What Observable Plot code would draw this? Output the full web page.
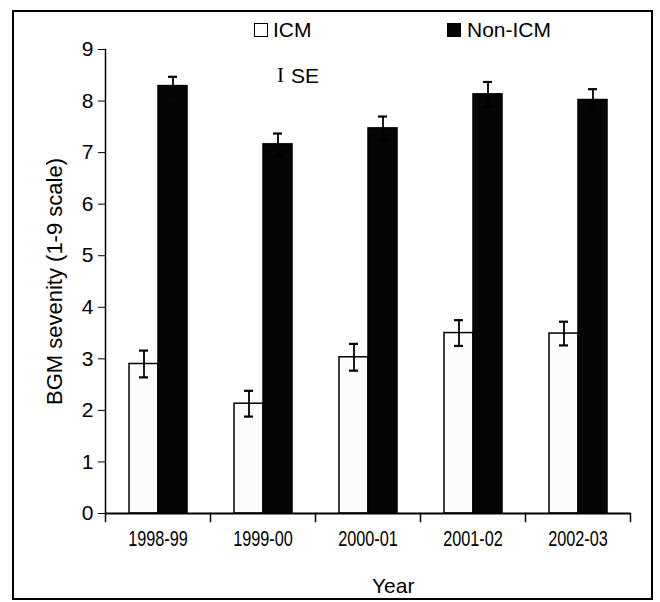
<!DOCTYPE html>
<html>
<head>
<meta charset="utf-8">
<script src="https://cdn.jsdelivr.net/npm/d3@7"></script>
<script src="https://cdn.jsdelivr.net/npm/@observablehq/plot@0.6"></script>
<style>
  body { margin: 0; background: #fff; }
  #wrap { position: relative; width: 660px; height: 602px; font-family: "Liberation Sans", Arial, sans-serif; color: #000; }
  #wrap svg { position: absolute; left: 0; top: 0; }
  #border { position: absolute; left: 12px; top: 10px; width: 637px; height: 586px; border: 2px solid #000; }
  .txt { position: absolute; font-size: 21px; line-height: 21px; white-space: nowrap; }
  .sw { position: absolute; width: 14px; height: 14px; box-sizing: border-box; border: 1.5px solid #000; }
</style>
</head>
<body>
<div id="wrap">
  <div id="border"></div>
</div>
<script>
const years = ["1998-99", "1999-00", "2000-01", "2001-02", "2002-03"];
const series = ["ICM", "Non-ICM"];
const icm = [2.90, 2.13, 3.03, 3.50, 3.49];
const icmSE = [0.26, 0.25, 0.26, 0.25, 0.23];
const nonIcm = [8.29, 7.16, 7.47, 8.13, 8.02];
const nonIcmSE = [0.18, 0.21, 0.23, 0.24, 0.21];
const yTicks = [0, 1, 2, 3, 4, 5, 6, 7, 8, 9];
const yLabel = "BGM sevenity (1-9 scale)";
const xLabel = "Year";
const seLabel = "SE";

const data = years.flatMap((year, i) => [
  {year, series: series[0], value: icm[i], se: icmSE[i]},
  {year, series: series[1], value: nonIcm[i], se: nonIcmSE[i]}
]);

const chart = Plot.plot({
  width: 660,
  height: 602,
  marginLeft: 103,
  marginRight: 29,
  marginTop: 49,
  marginBottom: 89,
  style: {fontFamily: "'Liberation Sans', Arial, sans-serif", fontSize: "20px", color: "#000", background: "transparent", overflow: "visible"},
  fx: {domain: years, padding: 0, axis: null, label: null},
  x: {domain: series, paddingInner: 0, paddingOuter: 0.76, axis: null, label: null},
  y: {domain: [0, 9], axis: null},
  color: {domain: series, range: ["#fcfcfc", "#050505"]},
  marks: [
    Plot.barY(data, {fx: "year", x: "series", y: "value", fill: "series", stroke: "#000", strokeWidth: 1.5}),
    Plot.ruleX(data, {fx: "year", x: "series", y1: d => d.value - d.se, y2: d => d.value + d.se, stroke: "#000", strokeWidth: 1.8}),
    Plot.tickY(data, {fx: "year", x: "series", y: d => d.value + d.se, insetLeft: 10, insetRight: 10, stroke: "#000", strokeWidth: 2.2}),
    Plot.tickY(data, {fx: "year", x: "series", y: d => d.value - d.se, insetLeft: 10, insetRight: 10, stroke: "#000", strokeWidth: 2.2}),
    Plot.ruleY([0], {stroke: "#000", strokeWidth: 2}),
    Plot.frame({anchor: "left", facetAnchor: "left", stroke: "#000", strokeWidth: 1.5}),
    Plot.frame({anchor: "left", insetTop: 464, insetBottom: -8, stroke: "#000", strokeWidth: 1.5}),
    Plot.frame({anchor: "right", facetAnchor: "right", insetTop: 464, insetBottom: -8, stroke: "#000", strokeWidth: 1.5}),
    Plot.axisY({ticks: yTicks, tickFormat: d3.format("d"), tickSize: 7, tickPadding: 5, fontSize: 21, label: null}),
    Plot.text([yLabel], {frameAnchor: "left", facetAnchor: "left", rotate: -90, dx: -51, fontSize: 22, textAnchor: "middle", fill: "#000"}),
    Plot.axisFx({anchor: "bottom", tickSize: 0, tickPadding: 17, fontSize: 22, label: null})
  ]
});

// condense the year tick labels horizontally, like the narrow face of the original
chart.querySelectorAll('g[aria-label="fx-axis tick label"] text').forEach(t => {
  const tr = t.getAttribute("transform");
  if (tr) {
    t.setAttribute("transform", tr + " scale(0.74,1)");
  } else {
    const x = +t.getAttribute("x") || 0, y = +t.getAttribute("y") || 0;
    t.removeAttribute("x"); t.removeAttribute("y");
    t.setAttribute("transform", `translate(${x},${y}) scale(0.74,1)`);
  }
});

const wrap = document.getElementById("wrap");
wrap.appendChild(chart);

function addText(str, left, top, extra) {
  const el = document.createElement("div");
  el.className = "txt";
  el.textContent = str;
  el.style.left = left + "px";
  el.style.top = top + "px";
  if (extra) Object.assign(el.style, extra);
  wrap.appendChild(el);
}
function addSwatch(left, top, fill) {
  const el = document.createElement("div");
  el.className = "sw";
  el.style.left = left + "px";
  el.style.top = top + "px";
  el.style.background = fill;
  wrap.appendChild(el);
}
addSwatch(254, 23, "#ffffff");
addText(series[0], 273, 19);
addSwatch(447, 23, "#050505");
addText(series[1], 467, 19);
addText("I", 277, 65, {fontFamily: "'Liberation Serif', serif"});
addText(seLabel, 291, 65);
addText(xLabel, 372, 575);
</script>
</body>
</html>
